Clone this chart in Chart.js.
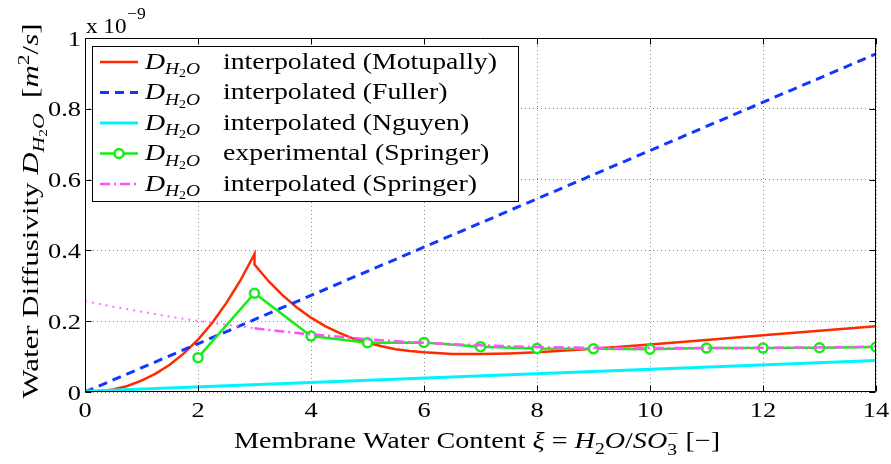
<!DOCTYPE html>
<html>
<head>
<meta charset="utf-8">
<script src="https://cdn.jsdelivr.net/npm/chart.js@4.4.1/dist/chart.umd.min.js"></script>
<style>
  html, body { margin: 0; padding: 0; background: #fff; }
  #wrap { width: 891px; height: 464px; }
</style>
</head>
<body>
<div id="wrap"><canvas id="diffusivity"></canvas></div>
<script>
// membrane water content (lambda) and diffusivity values, in 1e-9 m^2/s
const motupallyX = [0, 0.25, 0.5, 0.75, 1, 1.25, 1.5, 1.75, 2, 2.25, 2.5, 2.75, 3,
                    3, 3.25, 3.5, 3.75, 4, 4.25, 4.5, 4.75, 5, 5.25, 5.5, 5.75, 6, 6.5, 7, 7.5, 8,
                    9, 10, 11, 12, 13, 14];
const motupallyD = [0, 0.002, 0.007, 0.017, 0.032, 0.052, 0.077, 0.109, 0.148, 0.195, 0.251, 0.315, 0.390,
                    0.360, 0.313, 0.273, 0.239, 0.210, 0.186, 0.167, 0.151, 0.139, 0.129, 0.121, 0.116, 0.112,
                    0.107, 0.107, 0.109, 0.112, 0.122, 0.134, 0.147, 0.160, 0.173, 0.186];

const fullerX = [0, 14];
const fullerD = [0, 0.955];

const nguyenX = [0, 14];
const nguyenD = [0.002, 0.089];

const springerExpX = [2, 3, 4, 5, 6, 7, 8, 9, 10, 11, 12, 13, 14];
const springerExpD = [0.097, 0.279, 0.158, 0.139, 0.140, 0.128, 0.123, 0.122, 0.121, 0.124, 0.124, 0.125, 0.127];

const springerFitX = [0, 0.5, 1, 1.5, 2, 2.5, 3, 3.5, 4, 4.5, 5, 6, 7, 8, 9, 10, 11, 12, 13, 14];
const springerFitD = [0.257, 0.241, 0.227, 0.213, 0.201, 0.190, 0.180, 0.171, 0.163, 0.156, 0.149, 0.139,
                      0.132, 0.127, 0.125, 0.124, 0.124, 0.125, 0.126, 0.128];

const xTicks = [0, 2, 4, 6, 8, 10, 12, 14];
const yTicks = [0, 0.2, 0.4, 0.6, 0.8, 1];
const yTickLabels = ['0', '0.2', '0.4', '0.6', '0.8', '1'];

const seriesNames = [
  'interpolated (Motupally)',
  'interpolated (Fuller)',
  'interpolated (Nguyen)',
  'experimental (Springer)',
  'interpolated (Springer)'
];

const SERIF = '"Liberation Serif", "Times New Roman", serif';
const RED = '#ff2a00', BLUE = '#1038ff', CYAN = '#00f4ff', GREEN = '#14ee14', PINK = '#ff50ff';
const DASH_DOT = [10, 4, 2, 4];

const pts = (xs, ys) => xs.map((x, i) => ({ x: x, y: ys[i] }));

function fontOf(size, italic) {
  return (italic ? 'italic ' : '') + size.toFixed(1) + 'px ' + SERIF;
}

// draw pieces of text left to right (sub/superscripts via dy, size via k); returns width
function drawPieces(ctx, pieces, x, y, size, sx, dry) {
  let cx = x, held = 0;
  pieces.forEach(p => {
    ctx.font = fontOf(size * (p.k || 1), p.it);
    const w = ctx.measureText(p.t).width * sx;
    if (!dry) {
      ctx.save();
      ctx.translate(cx, y + (p.dy || 0) * size);
      ctx.scale(sx, 1);
      ctx.textAlign = 'left';
      ctx.textBaseline = 'alphabetic';
      ctx.fillText(p.t, 0, 0);
      ctx.restore();
    }
    if (p.keep) held = Math.max(held, w);
    else { cx += Math.max(w, held); held = 0; }
  });
  return cx - x;
}

const dH2O = [
  { t: 'D', it: true },
  { t: 'H', it: true, k: 0.7, dy: 0.24 },
  { t: '2', k: 0.5, dy: 0.38 },
  { t: 'O', it: true, k: 0.7, dy: 0.24 }
];

const yTitle = [{ t: 'Water Diffusivity ' }].concat(dH2O, [
  { t: '  [' }, { t: 'm', it: true }, { t: '2', k: 0.7, dy: -0.4 },
  { t: '/', it: false }, { t: 's', it: true }, { t: ']' }
]);

const xTitle = [
  { t: 'Membrane Water Content ' }, { t: '\u03BE', it: true }, { t: ' = ' },
  { t: 'H', it: true }, { t: '2', k: 0.7, dy: 0.25 }, { t: 'O', it: true }, { t: '/' },
  { t: 'SO', it: true }, { t: '\u2212', k: 0.7, dy: -0.4, keep: true }, { t: '3', k: 0.7, dy: 0.3 },
  { t: ' [\u2212]' }
];

const frame = {
  id: 'frame',
  afterDraw(chart) {
    const { ctx, chartArea: a, scales } = chart;
    const xs = scales.x, ys = scales.y;
    const L = Math.round(a.left) + 0.5, R = Math.round(a.right) - 0.5;
    const T = Math.round(a.top) + 0.5, B = Math.round(a.bottom) - 0.5;
    ctx.save();

    // box and inward tick marks
    ctx.strokeStyle = '#000';
    ctx.lineWidth = 1;
    ctx.setLineDash([]);
    ctx.beginPath();
    ctx.rect(L, T, R - L, B - T);
    xTicks.forEach(v => {
      const px = Math.round(xs.getPixelForValue(v)) + 0.5;
      ctx.moveTo(px, B); ctx.lineTo(px, B - 6);
      ctx.moveTo(px, T); ctx.lineTo(px, T + 6);
    });
    yTicks.forEach(v => {
      const py = Math.round(ys.getPixelForValue(v)) + 0.5;
      ctx.moveTo(L, py); ctx.lineTo(L + 6, py);
      ctx.moveTo(R, py); ctx.lineTo(R - 6, py);
    });
    ctx.stroke();

    ctx.fillStyle = '#000';
    const tsx = 1.2, tsize = 22;

    // tick labels
    xTicks.forEach(v => {
      const piece = [{ t: String(v) }];
      const w = drawPieces(ctx, piece, 0, 0, tsize, tsx, true);
      drawPieces(ctx, piece, xs.getPixelForValue(v) - w / 2, a.bottom + 25, tsize, tsx);
    });
    yTicks.forEach((v, i) => {
      const piece = [{ t: yTickLabels[i] }];
      const w = drawPieces(ctx, piece, 0, 0, tsize, tsx, true);
      drawPieces(ctx, piece, a.left - 4 - w, ys.getPixelForValue(v) + 7.5, tsize, tsx);
    });

    // exponent above the y axis
    drawPieces(ctx, [{ t: 'x 10' }], a.left + 1, 33, 22, 1.05);
    drawPieces(ctx, [{ t: '\u22129' }], a.left + 42, 19, 16, 1.1);

    // axis titles
    const tFont = 23;
    const xw = drawPieces(ctx, xTitle, 0, 0, tFont, 1, true);
    drawPieces(ctx, xTitle, 234, 448, tFont, 486 / xw);

    const yw = drawPieces(ctx, yTitle, 0, 0, tFont, 1, true);
    const yLen = 375;
    ctx.save();
    ctx.translate(38, 211 + yLen / 2);
    ctx.rotate(-Math.PI / 2);
    drawPieces(ctx, yTitle, 0, 0, tFont, yLen / yw);
    ctx.restore();

    // legend
    const lx = 92.5, ly = 46.5, lw = 426, lh = 155;
    ctx.fillStyle = '#fff';
    ctx.fillRect(lx, ly, lw, lh);
    ctx.strokeStyle = '#000';
    ctx.lineWidth = 1;
    ctx.strokeRect(lx, ly, lw, lh);

    const lsize = 23;
    const nw = drawPieces(ctx, [{ t: seriesNames[0] }], 0, 0, lsize, 1, true);
    const lsx = 274 / nw;
    chart.data.datasets.forEach((ds, i) => {
      const base = 68.5 + i * 30.5;
      const cy = base - 6.5;
      ctx.save();
      ctx.strokeStyle = ds.borderColor;
      ctx.lineWidth = ds.borderWidth;
      ctx.setLineDash(ds.borderDash || []);
      ctx.beginPath();
      ctx.moveTo(100, cy); ctx.lineTo(138, cy);
      ctx.stroke();
      if (ds.pointRadius) {
        ctx.setLineDash([]);
        ctx.fillStyle = ds.pointBackgroundColor;
        ctx.lineWidth = ds.pointBorderWidth;
        ctx.beginPath();
        ctx.arc(119, cy, ds.pointRadius, 0, Math.PI * 2);
        ctx.fill();
        ctx.stroke();
      }
      ctx.restore();
      ctx.fillStyle = '#000';
      drawPieces(ctx, dH2O, 145, base, lsize, lsx);
      drawPieces(ctx, [{ t: seriesNames[i] }], 223, base, lsize, lsx);
    });

    ctx.restore();
  }
};

const ctx = document.getElementById('diffusivity').getContext('2d');

const diffChart = new Chart(ctx, {
  type: 'scatter',
  data: {
    datasets: [{
      label: seriesNames[0],
      data: pts(motupallyX, motupallyD),
      showLine: true,
      borderColor: RED,
      borderWidth: 2.5,
      pointRadius: 0,
      tension: 0,
      order: 5
    }, {
      label: seriesNames[1],
      data: pts(fullerX, fullerD),
      showLine: true,
      borderColor: BLUE,
      borderWidth: 3,
      borderDash: [9, 6],
      pointRadius: 0,
      order: 4
    }, {
      label: seriesNames[2],
      data: pts(nguyenX, nguyenD),
      showLine: true,
      borderColor: CYAN,
      borderWidth: 3,
      pointRadius: 0,
      order: 3
    }, {
      label: seriesNames[3],
      data: pts(springerExpX, springerExpD),
      showLine: true,
      borderColor: GREEN,
      borderWidth: 2.5,
      pointRadius: 4.5,
      pointBorderWidth: 2.5,
      pointBorderColor: GREEN,
      pointBackgroundColor: '#fff',
      order: 2
    }, {
      label: seriesNames[4],
      data: pts(springerFitX, springerFitD),
      showLine: true,
      borderColor: PINK,
      borderWidth: 2.5,
      borderDash: DASH_DOT,
      cubicInterpolationMode: 'monotone',
      pointRadius: 0,
      segment: {
        // below lambda = 3 the fit is an extrapolation, drawn dotted
        borderDash: c => c.p0.parsed.x < 3 ? [2, 5] : DASH_DOT,
        borderWidth: c => c.p0.parsed.x < 3 ? 2 : 2.5,
        borderColor: c => c.p0.parsed.x < 3 ? 'rgba(255, 90, 255, 0.85)' : PINK
      },
      order: 1
    }]
  },
  options: {
    responsive: true,
    maintainAspectRatio: false,
    animation: false,
    layout: { padding: { top: 38, right: 15, left: 0, bottom: 0 } },
    plugins: {
      legend: { display: false },
      tooltip: { enabled: false }
    },
    scales: {
      x: {
        type: 'linear',
        min: 0,
        max: 14,
        afterFit: s => { s.height = 72; },
        ticks: { display: false, stepSize: 2 },
        grid: { color: 'rgba(0, 0, 0, 0.45)', lineWidth: 1, drawTicks: false },
        border: { display: false, dash: [1, 3] }
      },
      y: {
        type: 'linear',
        min: 0,
        max: 1,
        afterFit: s => { s.width = 85; },
        ticks: { display: false, stepSize: 0.2 },
        grid: { color: 'rgba(0, 0, 0, 0.45)', lineWidth: 1, drawTicks: false },
        border: { display: false, dash: [1, 3] }
      }
    }
  },
  plugins: [frame]
});
</script>
</body>
</html>
